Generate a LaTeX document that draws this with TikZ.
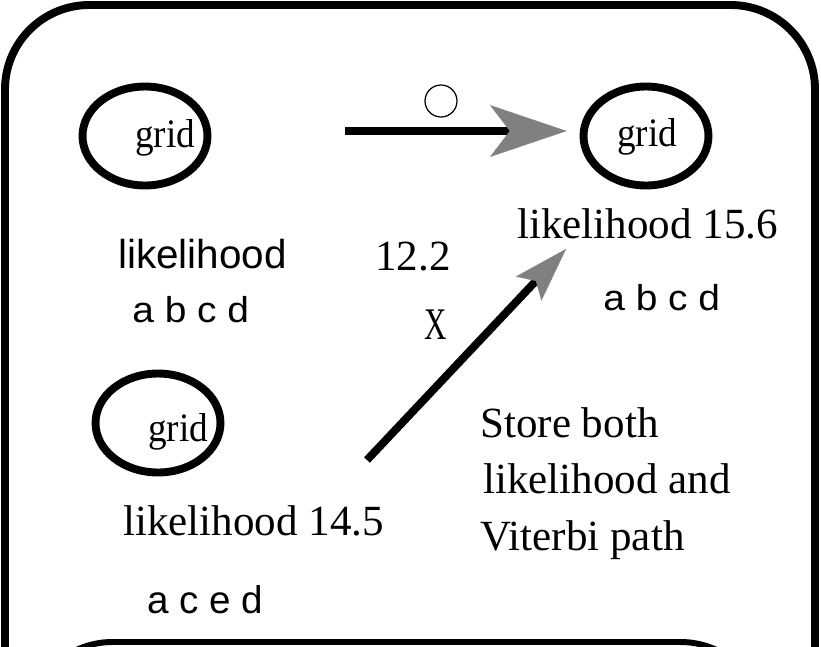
\documentclass[tikz,border=0pt]{standalone}
\usepackage{fontspec}
\usepackage{graphicx}
\setmainfont{Liberation Serif}
\newfontfamily\sansfam{Liberation Sans}
\newfontfamily\sanswide[FakeStretch=1.08]{Liberation Sans}
\newfontfamily\gridnarrow[FakeStretch=0.92]{Liberation Serif}
\usetikzlibrary{shapes.geometric,arrows.meta}

\begin{document}
\begin{tikzpicture}[x=0.02cm,y=-0.02cm,
    gridell/.style={ellipse,draw,line width=4.5pt,minimum width=2.5cm,minimum height=1.98cm,inner sep=0pt},
    gridtext/.style={inner sep=0pt,anchor=base west,font=\gridnarrow\fontsize{23}{27}\selectfont},
    sertext/.style={inner sep=0pt,anchor=base west,font=\fontsize{24.5}{29}\selectfont},
    santext/.style={inner sep=0pt,anchor=base west,font=\sansfam\fontsize{23}{27}\selectfont},
    abcdtext/.style={inner sep=0pt,anchor=base west,font=\sanswide\fontsize{20.5}{24}\selectfont},
    bigtip/.style={-{Stealth[length=43.6pt,width=29.5pt,inset=11.3pt,color=gray,line width=0.1pt]}},
    smalltip/.style={-{Stealth[length=31pt,width=20pt,inset=6pt,color=gray,line width=0.1pt]}},
    conn/.style={line width=4.5pt}]
    \useasboundingbox (0,0) rectangle (821,646);
    \clip (0,0) rectangle (821,646);
    % frames
    \draw[line width=4.5pt,rounded corners=48pt] (5,5) rectangle (815,780);
    \draw[line width=3.4pt,rounded corners=48pt] (28,642) rectangle (765,900);
    % states
    \node[gridell] (ell1) at (145,136) {};
    \node[gridell] (ell2) at (646,136) {};
    \node[gridell] (ell3) at (158,423) {};
    \node[gridtext] (grid1) at (135,147) {grid};
    \node[gridtext] (grid2) at (617,146) {grid};
    \node[gridtext] (grid3) at (148,441) {grid};
    % labels
    \node[santext] (lik1) at (118,268) {likelihood};
    \node[abcdtext] (seq1) at (132,322) {a b c d};
    \node[sertext] (val1) at (375,270) {12.2};
    \node[sertext,anchor=center] (cross) at (436,325) {\scalebox{0.72}[1.05]{X}};
    \node[sertext] (lik2) at (517,238) {likelihood 15.6};
    \node[abcdtext] (seq2) at (603,310) {a b c d};
    \node[sertext] (lik3) at (123,535) {likelihood 14.5};
    \node[santext,font=\sansfam\fontsize{22}{26}\selectfont] (seq3) at (147,613) {a c e d};
    \node[sertext] (note1) at (480,437) {Store both};
    \node[sertext] (note2) at (483,493) {likelihood and};
    \node[sertext] (note3) at (480,550) {Viterbi path};
    % transitions
    \node[circle,draw,line width=0.7pt,minimum size=0.64cm,inner sep=0pt] (circ) at (441,101) {};
    \coordinate (hstart) at (345,131);
    \draw[conn,bigtip,shorten >=7.4pt] (hstart) -- (hstart -| ell2.west);
    \coordinate (dstart) at (367,460);
    \coordinate (dend) at (566,249);
    \draw[conn,smalltip] (dstart) -- (dend);
\end{tikzpicture}
\end{document}
